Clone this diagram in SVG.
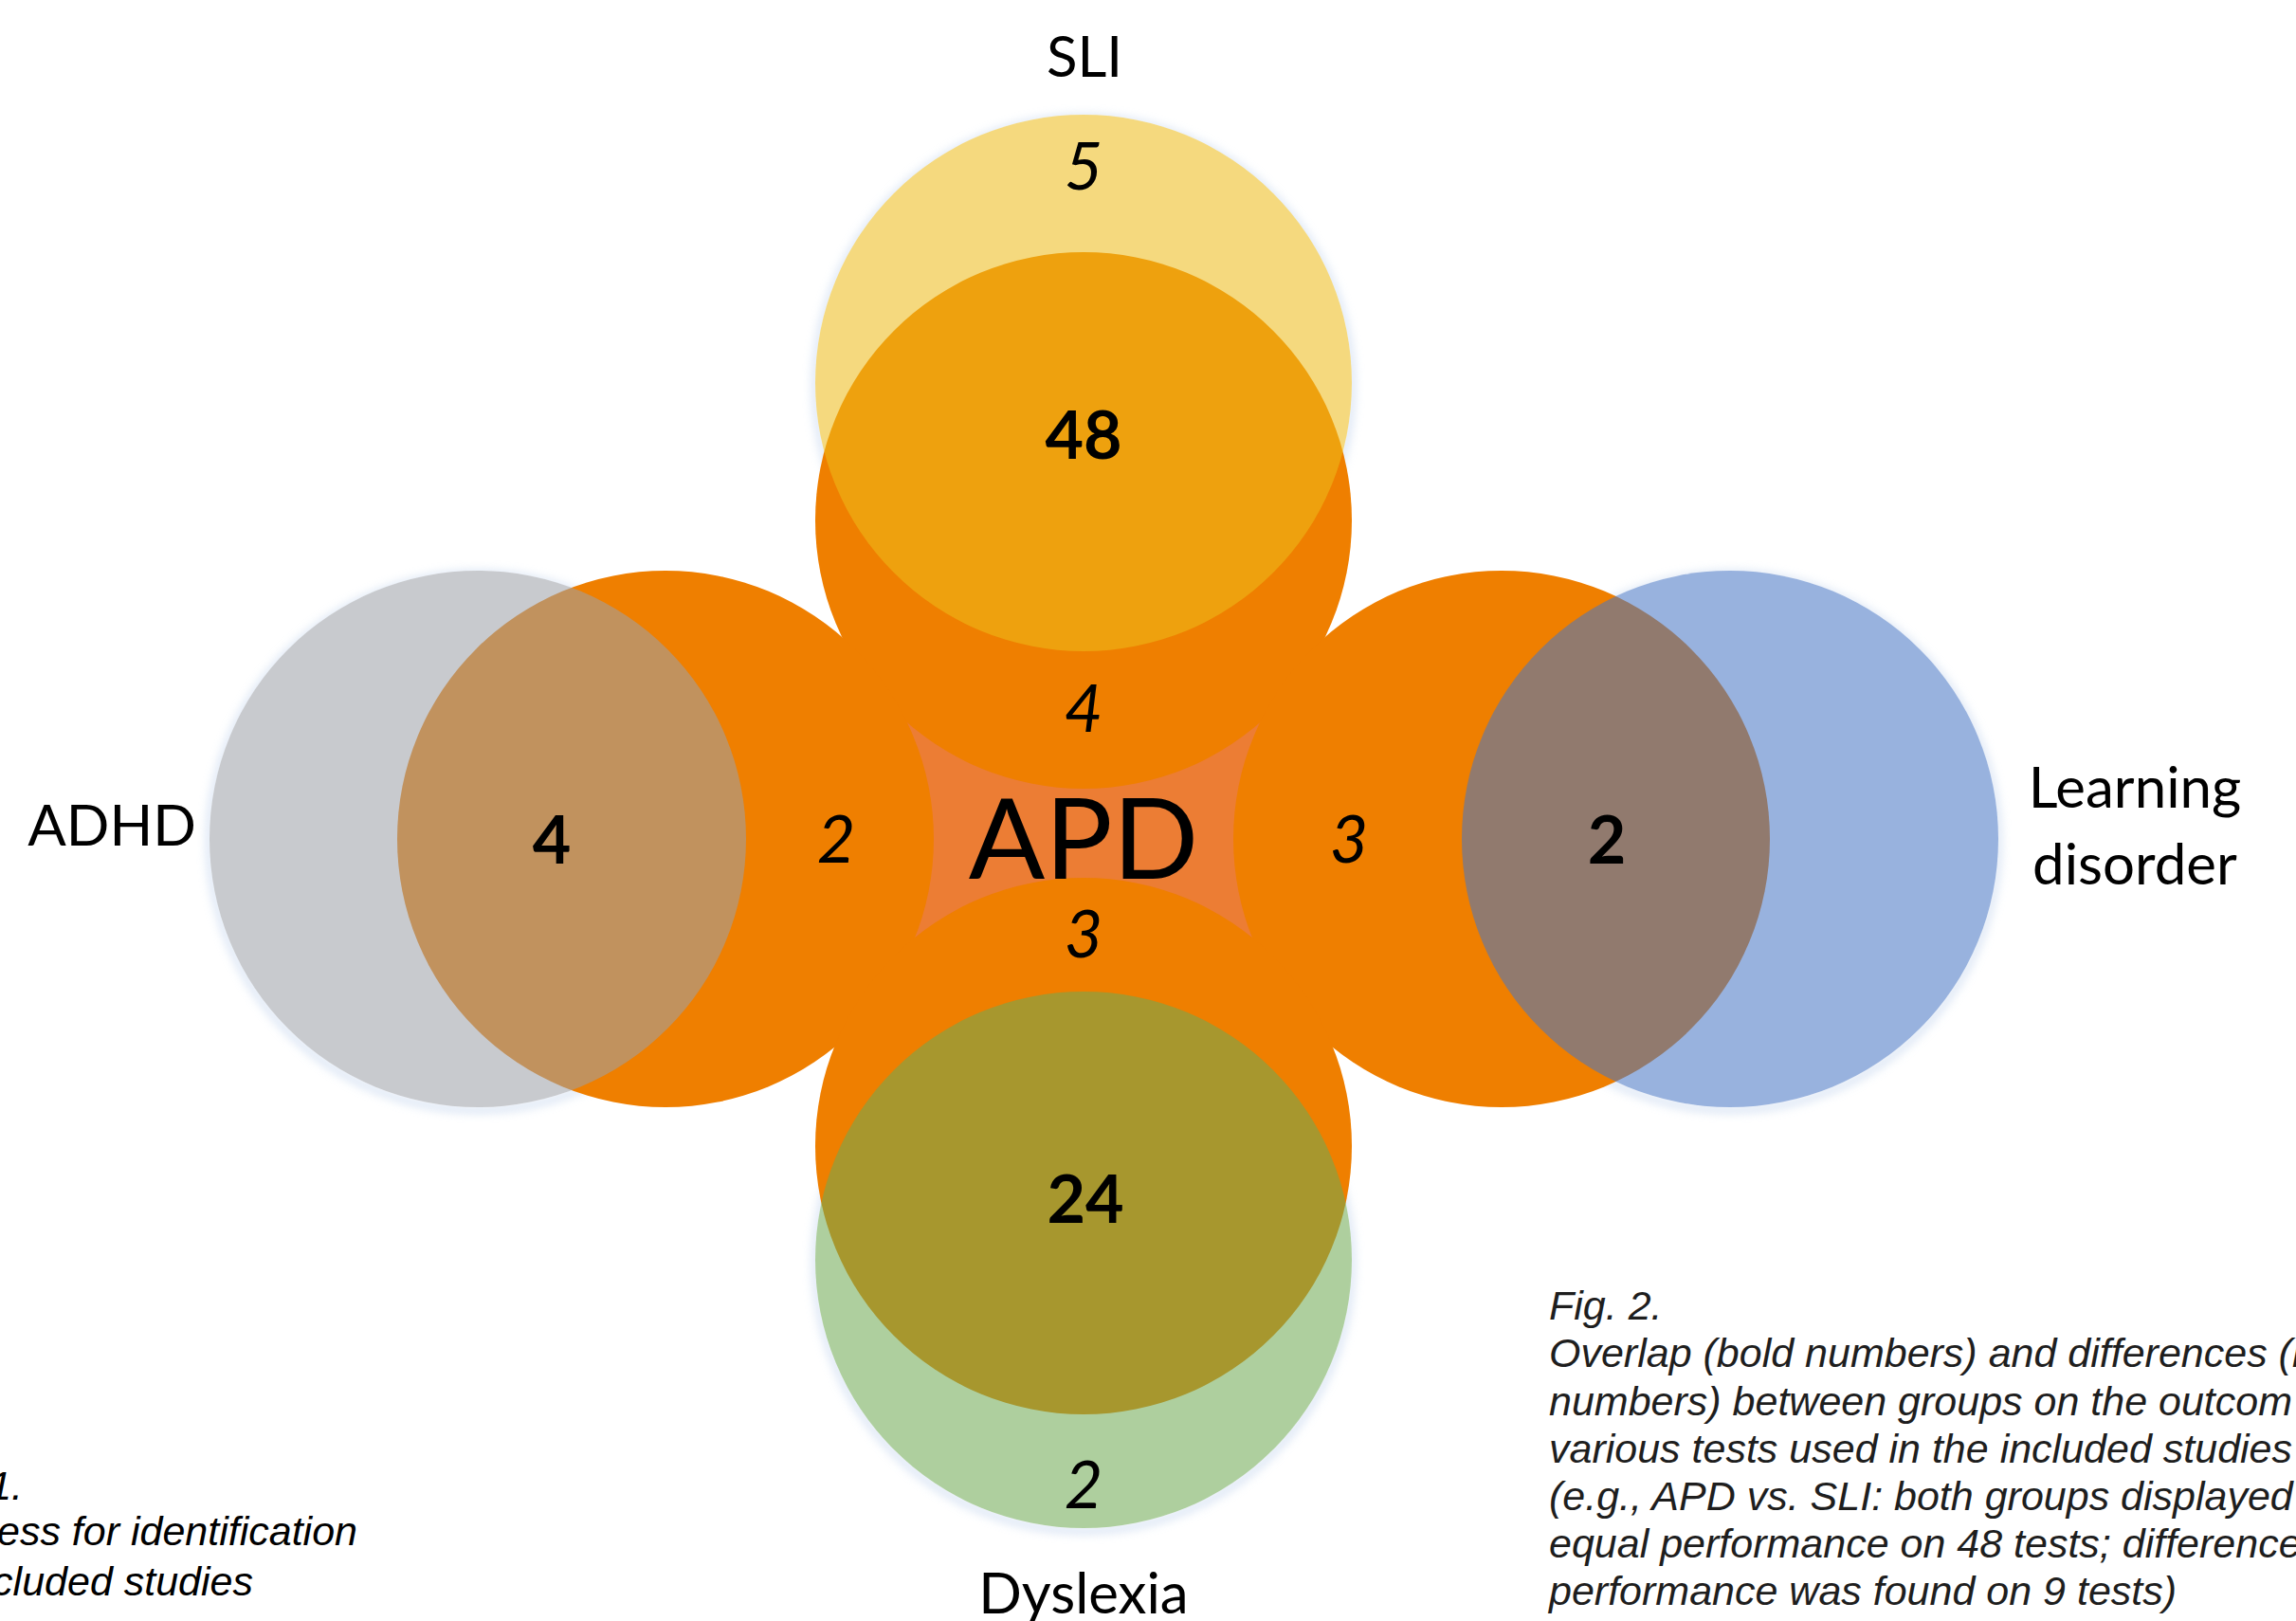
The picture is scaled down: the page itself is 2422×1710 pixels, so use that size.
<svg xmlns="http://www.w3.org/2000/svg" width="2422" height="1710" viewBox="0 0 2422 1710">
<defs>
<style>
.lbl{font-family:Lato,"Liberation Sans",sans-serif;font-size:60px;fill:#000;text-anchor:middle}
.apd{font-family:Lato,"Liberation Sans",sans-serif;font-size:119px;fill:#000;text-anchor:middle}
.it{font-family:Lato,"Liberation Sans",sans-serif;font-style:italic;font-size:70px;fill:#000;text-anchor:middle}
.bd{font-family:Lato,"Liberation Sans",sans-serif;font-weight:bold;font-size:70px;fill:#000;text-anchor:middle}
.cap{font-family:"Liberation Sans",Arial,sans-serif;font-style:italic;font-size:43px;fill:#1e1e1e}
.capl{font-family:"Liberation Sans",Arial,sans-serif;font-style:italic;font-size:43px;fill:#000;text-anchor:end}
.orange{fill:#EF7F00}
.shadow{fill:none;stroke:#c5d6ee;stroke-width:8;opacity:0.6}
</style>
<filter id="soft" x="-10%" y="-10%" width="120%" height="125%">
<feGaussianBlur stdDeviation="5"/>
</filter>
<mask id="mSLI" maskUnits="userSpaceOnUse" x="0" y="0" width="2422" height="1710"><rect width="2422" height="1710" fill="#fff"/><circle cx="1143" cy="404" r="283" fill="#000"/></mask>
<mask id="mADHD" maskUnits="userSpaceOnUse" x="0" y="0" width="2422" height="1710"><rect width="2422" height="1710" fill="#fff"/><circle cx="504" cy="885" r="283" fill="#000"/></mask>
<mask id="mLD" maskUnits="userSpaceOnUse" x="0" y="0" width="2422" height="1710"><rect width="2422" height="1710" fill="#fff"/><circle cx="1825" cy="885" r="283" fill="#000"/></mask>
<mask id="mDYS" maskUnits="userSpaceOnUse" x="0" y="0" width="2422" height="1710"><rect width="2422" height="1710" fill="#fff"/><circle cx="1143" cy="1329" r="283" fill="#000"/></mask>
</defs>
<rect width="2422" height="1710" fill="#ffffff"/>
<g id="connectors"/>
<g id="shadows">
<g mask="url(#mSLI)"><circle class="shadow" cx="1143" cy="407" r="283" filter="url(#soft)"/></g>
<g mask="url(#mADHD)"><circle class="shadow" cx="504" cy="888" r="283" filter="url(#soft)"/></g>
<g mask="url(#mLD)"><circle class="shadow" cx="1825" cy="888" r="283" filter="url(#soft)"/></g>
<g mask="url(#mDYS)"><circle class="shadow" cx="1143" cy="1332" r="283" filter="url(#soft)"/></g>
</g>
<g id="APD">
<polygon points="953,758 1333,758 1324,992 962,992" fill="#EC7D34"/>
<circle class="orange" cx="1143" cy="549" r="283"/>
<circle class="orange" cx="702" cy="885" r="283"/>
<circle class="orange" cx="1584" cy="885" r="283"/>
<circle class="orange" cx="1143" cy="1209" r="283"/>
<text class="apd" x="1143" y="927">APD</text>
</g>
<g id="SLI">
<circle cx="1143" cy="404" r="283" fill="#EDBB19" fill-opacity="0.56"/>
<text class="lbl" x="1144" y="81">SLI</text>
</g>
<g id="ADHD">
<circle cx="504" cy="885" r="283" fill="#9DA1A8" fill-opacity="0.56"/>
<text class="lbl" x="118" y="892">ADHD</text>
</g>
<g id="LearningDisorder">
<circle cx="1825" cy="885" r="283" fill="#4776C4" fill-opacity="0.56"/>
<text class="lbl" x="2252" y="852">Learning</text>
<text class="lbl" x="2252" y="933">disorder</text>
</g>
<g id="Dyslexia">
<circle cx="1143" cy="1329" r="283" fill="#6FAA52" fill-opacity="0.56"/>
<text class="lbl" x="1143" y="1702">Dyslexia</text>
</g>
<g id="numbers">
<text class="it" x="1143" y="200">5</text>
<text class="bd" x="1143" y="484">48</text>
<text class="it" x="1143" y="772">4</text>
<text class="it" x="1143" y="1010">3</text>
<text class="it" x="882" y="910">2</text>
<text class="it" x="1423" y="910">3</text>
<text class="bd" x="582" y="911">4</text>
<text class="bd" x="1695" y="911">2</text>
<text class="bd" x="1145" y="1290">24</text>
<text class="it" x="1143" y="1591">2</text>
</g>
<g id="caption-right">
<text class="cap" x="1634" y="1392">Fig. 2.</text>
<text class="cap" x="1634" y="1442">Overlap (bold numbers) and differences (it</text>
<text class="cap" x="1634" y="1493">numbers) between groups on the outcom</text>
<text class="cap" x="1634" y="1543">various tests used in the included studies</text>
<text class="cap" x="1634" y="1593">(e.g., APD vs. SLI: both groups displayed</text>
<text class="cap" x="1634" y="1643">equal performance on 48 tests; difference</text>
<text class="cap" x="1634" y="1693">performance was found on 9 tests)</text>
</g>
<g id="caption-left">
<text class="capl" x="24" y="1582">1.</text>
<text class="capl" x="377" y="1630">ess for identification</text>
<text class="capl" x="267" y="1683">cluded studies</text>
</g>
</svg>
